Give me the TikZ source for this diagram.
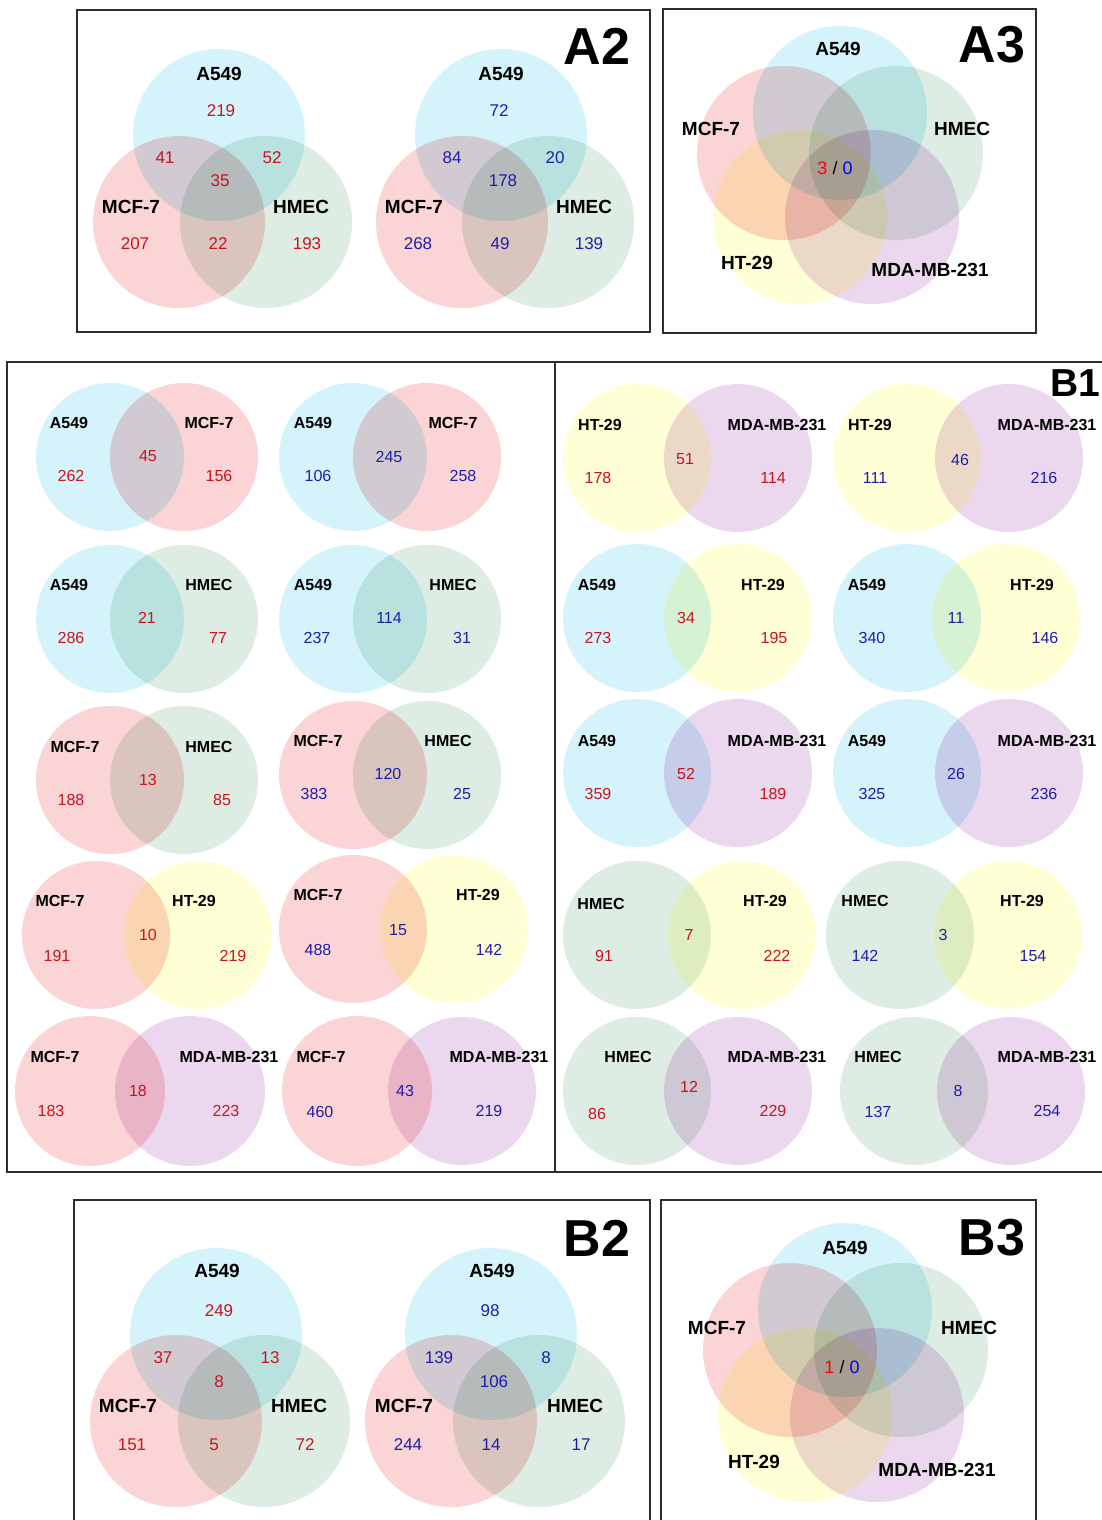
\documentclass[tikz,border=0pt]{standalone}
\usepackage{fontspec}
\setmainfont{Liberation Sans}
\definecolor{cA}{RGB}{213,243,251}
\definecolor{cM}{RGB}{251,213,213}
\definecolor{cH}{RGB}{222,237,228}
\definecolor{cT}{RGB}{255,255,214}
\definecolor{cD}{RGB}{236,216,238}
\definecolor{numR}{RGB}{200,20,30}
\definecolor{numB}{RGB}{30,30,170}
\definecolor{boxc}{RGB}{45,45,45}
\newcommand\cir[4]{\fill[#1] (#2,#3) circle[radius=#4];}
\newcommand\T[5]{\node[#1] (#2) at (#3,#4) {#5};}
\begin{document}
\begin{tikzpicture}[x=1pt,y=-1pt,
  lb/.style={font=\fontsize{16}{18}\selectfont\bfseries, inner sep=0pt},
  lB/.style={font=\fontsize{19}{21}\selectfont\bfseries, inner sep=0pt},
  nr/.style={font=\fontsize{16}{18}\selectfont, text=numR, inner sep=0pt},
  nb/.style={font=\fontsize{16}{18}\selectfont, text=numB, inner sep=0pt},
  NR/.style={font=\fontsize{17}{19}\selectfont, text=numR, inner sep=0pt},
  NB/.style={font=\fontsize{17}{19}\selectfont, text=numB, inner sep=0pt},
  big/.style={font=\fontsize{52}{54}\selectfont\bfseries, inner sep=0pt},
  bigs/.style={font=\fontsize{39}{41}\selectfont\bfseries, inner sep=0pt},
  boxline/.style={draw=boxc, line width=2pt}]
\useasboundingbox (0,0) rectangle (1102,1520);
\fill[white] (0,0) rectangle (1102,1520);

% ---------------- circles ----------------
\begin{scope}[blend group=multiply]
% A2
\cir{cA}{219}{135}{86}\cir{cM}{179}{222}{86}\cir{cH}{266}{222}{86}
\cir{cA}{501}{135}{86}\cir{cM}{462}{222}{86}\cir{cH}{548}{222}{86}
% A3
\cir{cA}{840}{113}{87}\cir{cM}{784}{153}{87}\cir{cH}{896}{153}{87}
\cir{cT}{800}{217}{87}\cir{cD}{872}{217}{87}
% B1 left half
\cir{cA}{110}{457}{74}\cir{cM}{184}{457}{74}
\cir{cA}{353}{457}{74}\cir{cM}{427}{457}{74}
\cir{cA}{110}{619}{74}\cir{cH}{184}{619}{74}
\cir{cA}{353}{619}{74}\cir{cH}{427}{619}{74}
\cir{cM}{110}{780}{74}\cir{cH}{184}{780}{74}
\cir{cM}{353}{775}{74}\cir{cH}{427}{775}{74}
\cir{cM}{96}{935}{74}\cir{cT}{198}{935}{74}
\cir{cM}{353}{929}{74}\cir{cT}{454}{929}{74}
\cir{cM}{90}{1091}{75}\cir{cD}{190}{1091}{75}
\cir{cM}{357}{1091}{75}\cir{cD}{462}{1091}{74}
% B1 right half
\cir{cT}{637}{458}{74}\cir{cD}{738}{458}{74}
\cir{cT}{907}{458}{74}\cir{cD}{1009}{458}{74}
\cir{cA}{637}{618}{74}\cir{cT}{738}{618}{74}
\cir{cA}{907}{618}{74}\cir{cT}{1006}{618}{74}
\cir{cA}{637}{773}{74}\cir{cD}{738}{773}{74}
\cir{cA}{907}{773}{74}\cir{cD}{1009}{773}{74}
\cir{cH}{637}{935}{74}\cir{cT}{742}{935}{74}
\cir{cH}{900}{935}{74}\cir{cT}{1008}{935}{74}
\cir{cH}{637}{1091}{74}\cir{cD}{738}{1091}{74}
\cir{cH}{914}{1091}{74}\cir{cD}{1011}{1091}{74}
% B2
\cir{cA}{216}{1334}{86}\cir{cM}{176}{1421}{86}\cir{cH}{264}{1421}{86}
\cir{cA}{491}{1334}{86}\cir{cM}{451}{1421}{86}\cir{cH}{539}{1421}{86}
% B3
\cir{cA}{845}{1310}{87}\cir{cM}{790}{1350}{87}\cir{cH}{901}{1350}{87}
\cir{cT}{805}{1415}{87}\cir{cD}{877}{1415}{87}
\end{scope}

% ---------------- boxes ----------------
\draw[boxline] (77,10) rectangle (650,332);
\draw[boxline] (663,9) rectangle (1036,333);
\draw[boxline] (1103,362) -- (7,362) -- (7,1172) -- (1103,1172);
\draw[boxline] (555,362) -- (555,1172);
\draw[boxline] (74,1523) -- (74,1200) -- (650,1200) -- (650,1523);
\draw[boxline] (661,1523) -- (661,1200) -- (1036,1200) -- (1036,1523);

% ---------------- A2 ----------------
\T{big}{tA2}{597}{46}{A2}
\T{lB}{a2lA}{219}{74}{A549}
\T{NR}{a2l1}{221}{111}{219}
\T{NR}{a2l2}{165}{158}{41}
\T{NR}{a2l3}{272}{158}{52}
\T{NR}{a2l4}{220}{181}{35}
\T{lB}{a2lM}{131}{207}{MCF-7}
\T{lB}{a2lH}{301}{207}{HMEC}
\T{NR}{a2l5}{135}{244}{207}
\T{NR}{a2l6}{218}{244}{22}
\T{NR}{a2l7}{307}{244}{193}
\T{lB}{a2rA}{501}{74}{A549}
\T{NB}{a2r1}{499}{111}{72}
\T{NB}{a2r2}{452}{158}{84}
\T{NB}{a2r3}{555}{158}{20}
\T{NB}{a2r4}{503}{181}{178}
\T{lB}{a2rM}{414}{207}{MCF-7}
\T{lB}{a2rH}{584}{207}{HMEC}
\T{NB}{a2r5}{418}{244}{268}
\T{NB}{a2r6}{500}{244}{49}
\T{NB}{a2r7}{589}{244}{139}

% ---------------- A3 ----------------
\T{big}{tA3}{992}{45}{A3}
\T{lB}{a3A}{838}{49}{A549}
\T{lB}{a3M}{711}{129}{MCF-7}
\T{lB}{a3H}{962}{129}{HMEC}
\T{lB}{a3T}{747}{263}{HT-29}
\T{lB}{a3D}{930}{270}{MDA-MB-231}
\node[font=\fontsize{18}{20}\selectfont, inner sep=0pt] (a3c) at (835,168) {\textcolor{red}{3} / \textcolor{blue}{0}};

% ---------------- B1 ----------------
\T{bigs}{tB1}{1075}{383}{B1}
% row 1
\T{lb}{b11a}{69}{423}{A549}\T{lb}{b11b}{209}{423}{MCF-7}
\T{nr}{b11c}{148}{456}{45}\T{nr}{b11d}{71}{476}{262}\T{nr}{b11e}{219}{476}{156}
\T{lb}{b12a}{313}{423}{A549}\T{lb}{b12b}{453}{423}{MCF-7}
\T{nb}{b12c}{389}{457}{245}\T{nb}{b12d}{318}{476}{106}\T{nb}{b12e}{463}{476}{258}
\T{lb}{b13a}{600}{425}{HT-29}\T{lb}{b13b}{777}{425}{MDA-MB-231}
\T{nr}{b13c}{685}{459}{51}\T{nr}{b13d}{598}{478}{178}\T{nr}{b13e}{773}{478}{114}
\T{lb}{b14a}{870}{425}{HT-29}\T{lb}{b14b}{1047}{425}{MDA-MB-231}
\T{nb}{b14c}{960}{460}{46}\T{nb}{b14d}{875}{478}{111}\T{nb}{b14e}{1044}{478}{216}
% row 2
\T{lb}{b21a}{69}{585}{A549}\T{lb}{b21b}{209}{585}{HMEC}
\T{nr}{b21c}{147}{618}{21}\T{nr}{b21d}{71}{638}{286}\T{nr}{b21e}{218}{638}{77}
\T{lb}{b22a}{313}{585}{A549}\T{lb}{b22b}{453}{585}{HMEC}
\T{nb}{b22c}{389}{618}{114}\T{nb}{b22d}{317}{638}{237}\T{nb}{b22e}{462}{638}{31}
\T{lb}{b23a}{597}{585}{A549}\T{lb}{b23b}{763}{585}{HT-29}
\T{nr}{b23c}{686}{618}{34}\T{nr}{b23d}{598}{638}{273}\T{nr}{b23e}{774}{638}{195}
\T{lb}{b24a}{867}{585}{A549}\T{lb}{b24b}{1032}{585}{HT-29}
\T{nb}{b24c}{956}{618}{11}\T{nb}{b24d}{872}{638}{340}\T{nb}{b24e}{1045}{638}{146}
% row 3
\T{lb}{b31a}{75}{747}{MCF-7}\T{lb}{b31b}{209}{747}{HMEC}
\T{nr}{b31c}{148}{780}{13}\T{nr}{b31d}{71}{800}{188}\T{nr}{b31e}{222}{800}{85}
\T{lb}{b32a}{318}{741}{MCF-7}\T{lb}{b32b}{448}{741}{HMEC}
\T{nb}{b32c}{388}{774}{120}\T{nb}{b32d}{314}{794}{383}\T{nb}{b32e}{462}{794}{25}
\T{lb}{b33a}{597}{741}{A549}\T{lb}{b33b}{777}{741}{MDA-MB-231}
\T{nr}{b33c}{686}{774}{52}\T{nr}{b33d}{598}{794}{359}\T{nr}{b33e}{773}{794}{189}
\T{lb}{b34a}{867}{741}{A549}\T{lb}{b34b}{1047}{741}{MDA-MB-231}
\T{nb}{b34c}{956}{774}{26}\T{nb}{b34d}{872}{794}{325}\T{nb}{b34e}{1044}{794}{236}
% row 4
\T{lb}{b41a}{60}{901}{MCF-7}\T{lb}{b41b}{194}{901}{HT-29}
\T{nr}{b41c}{148}{935}{10}\T{nr}{b41d}{57}{956}{191}\T{nr}{b41e}{233}{956}{219}
\T{lb}{b42a}{318}{895}{MCF-7}\T{lb}{b42b}{478}{895}{HT-29}
\T{nb}{b42c}{398}{930}{15}\T{nb}{b42d}{318}{950}{488}\T{nb}{b42e}{489}{950}{142}
\T{lb}{b43a}{601}{904}{HMEC}\T{lb}{b43b}{765}{901}{HT-29}
\T{nr}{b43c}{689}{935}{7}\T{nr}{b43d}{604}{956}{91}\T{nr}{b43e}{777}{956}{222}
\T{lb}{b44a}{865}{901}{HMEC}\T{lb}{b44b}{1022}{901}{HT-29}
\T{nb}{b44c}{943}{935}{3}\T{nb}{b44d}{865}{956}{142}\T{nb}{b44e}{1033}{956}{154}
% row 5
\T{lb}{b51a}{55}{1057}{MCF-7}\T{lb}{b51b}{229}{1057}{MDA-MB-231}
\T{nr}{b51c}{138}{1091}{18}\T{nr}{b51d}{51}{1111}{183}\T{nr}{b51e}{226}{1111}{223}
\T{lb}{b52a}{321}{1057}{MCF-7}\T{lb}{b52b}{499}{1057}{MDA-MB-231}
\T{nb}{b52c}{405}{1091}{43}\T{nb}{b52d}{320}{1112}{460}\T{nb}{b52e}{489}{1111}{219}
\T{lb}{b53a}{628}{1057}{HMEC}\T{lb}{b53b}{777}{1057}{MDA-MB-231}
\T{nr}{b53c}{689}{1087}{12}\T{nr}{b53d}{597}{1114}{86}\T{nr}{b53e}{773}{1111}{229}
\T{lb}{b54a}{878}{1057}{HMEC}\T{lb}{b54b}{1047}{1057}{MDA-MB-231}
\T{nb}{b54c}{958}{1091}{8}\T{nb}{b54d}{878}{1112}{137}\T{nb}{b54e}{1047}{1111}{254}

% ---------------- B2 ----------------
\T{big}{tB2}{597}{1238}{B2}
\T{lB}{b2lA}{217}{1271}{A549}
\T{NR}{b2l1}{219}{1311}{249}
\T{NR}{b2l2}{163}{1358}{37}
\T{NR}{b2l3}{270}{1358}{13}
\T{NR}{b2l4}{219}{1382}{8}
\T{lB}{b2lM}{128}{1406}{MCF-7}
\T{lB}{b2lH}{299}{1406}{HMEC}
\T{NR}{b2l5}{132}{1445}{151}
\T{NR}{b2l6}{214}{1445}{5}
\T{NR}{b2l7}{305}{1445}{72}
\T{lB}{b2rA}{492}{1271}{A549}
\T{NB}{b2r1}{490}{1311}{98}
\T{NB}{b2r2}{439}{1358}{139}
\T{NB}{b2r3}{546}{1358}{8}
\T{NB}{b2r4}{494}{1382}{106}
\T{lB}{b2rM}{404}{1406}{MCF-7}
\T{lB}{b2rH}{575}{1406}{HMEC}
\T{NB}{b2r5}{408}{1445}{244}
\T{NB}{b2r6}{491}{1445}{14}
\T{NB}{b2r7}{581}{1445}{17}

% ---------------- B3 ----------------
\T{big}{tB3}{992}{1238}{B3}
\T{lB}{b3A}{845}{1248}{A549}
\T{lB}{b3M}{717}{1328}{MCF-7}
\T{lB}{b3H}{969}{1328}{HMEC}
\T{lB}{b3T}{754}{1462}{HT-29}
\T{lB}{b3D}{937}{1470}{MDA-MB-231}
\node[font=\fontsize{18}{20}\selectfont, inner sep=0pt] (b3c) at (842,1367) {\textcolor{red}{1} / \textcolor{blue}{0}};
\end{tikzpicture}
\end{document}
